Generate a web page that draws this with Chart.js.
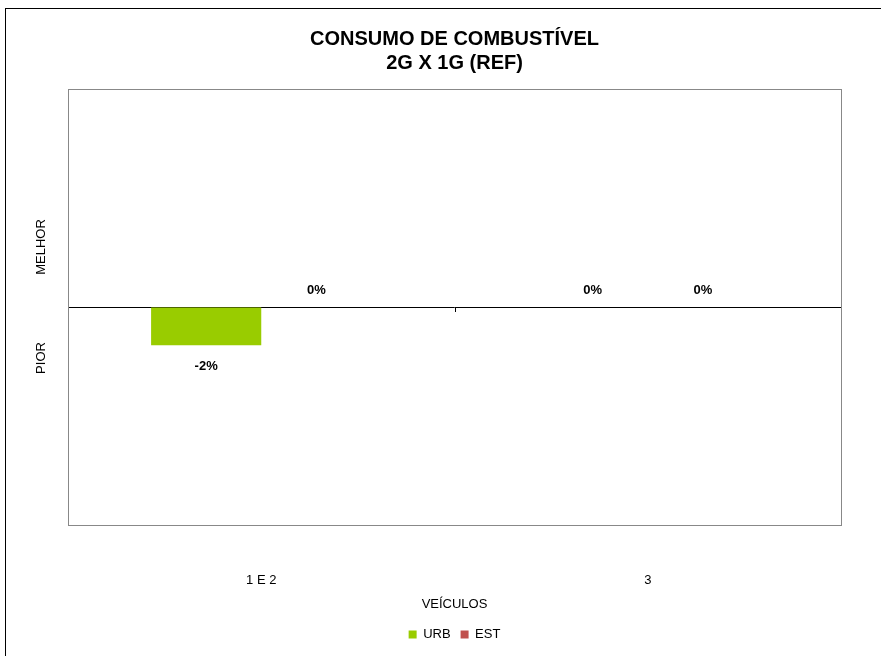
<!DOCTYPE html>
<html>
<head>
<meta charset="utf-8">
<script src="https://cdn.jsdelivr.net/npm/chart.js@4.4.1/dist/chart.umd.min.js"></script>
<style>
    body { margin: 0; overflow: hidden; background: #fff; }
    .frame { position: absolute; left: 5px; top: 8px; width: 900px; height: 670px; border: 1px solid #000; }
</style>
</head>
<body>
<div class="frame"><canvas id="barChart" width="900" height="642"></canvas></div>
<script>
//============================================= Data =============================================//
const categories = ['1 E 2', '3'];
const urbValues = [-0.021, 0];
const estValues = [0, 0];
const seriesNames = ['URB', 'EST'];
const seriesColors = ['#99CC00', '#C0504D'];
const sideLabels = ['MELHOR', 'PIOR'];

Chart.defaults.font.family = '"Liberation Sans", Arial, sans-serif';
Chart.defaults.color = '#000';

// rótulos de valor em cima/baixo das barras
const valueLabels = {
    id: 'valueLabels',
    afterDatasetsDraw(chart) {
        const { ctx } = chart;
        ctx.save();
        ctx.font = 'bold 13px "Liberation Sans", Arial, sans-serif';
        ctx.fillStyle = '#000';
        ctx.textAlign = 'center';
        ctx.textBaseline = 'middle';
        chart.data.datasets.forEach((ds, i) => {
            chart.getDatasetMeta(i).data.forEach((bar, j) => {
                const v = ds.data[j];
                const txt = Math.round(v * 100) + '%';
                if (v < 0) {
                    ctx.fillText(txt, bar.x, bar.y + 21);
                } else {
                    ctx.fillText(txt, bar.x, bar.y - 17);
                }
            });
        });
        ctx.restore();
    }
};

// moldura da área de plotagem, marca entre categorias e MELHOR / PIOR
const plotFrame = {
    id: 'plotFrame',
    afterDraw(chart) {
        const { ctx, chartArea: a, scales } = chart;
        const zeroY = scales.y.getPixelForValue(0);
        ctx.save();
        ctx.strokeStyle = '#888';
        ctx.lineWidth = 1;
        ctx.strokeRect(Math.round(a.left) + 0.5, Math.round(a.top) + 0.5, Math.round(a.right - a.left), Math.round(a.bottom - a.top));

        ctx.strokeStyle = '#000';
        const midX = Math.round(scales.x.getPixelForValue(0.5)) + 0.5;
        ctx.beginPath();
        ctx.moveTo(midX, zeroY);
        ctx.lineTo(midX, zeroY + 5);
        ctx.stroke();

        ctx.font = '13px "Liberation Sans", Arial, sans-serif';
        ctx.fillStyle = '#000';
        ctx.textAlign = 'center';
        ctx.textBaseline = 'middle';
        const lx = a.left - 27;
        ctx.translate(lx, zeroY - 60);
        ctx.rotate(-Math.PI / 2);
        ctx.fillText(sideLabels[0], 0, 0);
        ctx.rotate(Math.PI / 2);
        ctx.translate(0, 111);
        ctx.rotate(-Math.PI / 2);
        ctx.fillText(sideLabels[1], 0, 0);
        ctx.restore();
    }
};

const barConfig = {
    type: 'bar',
    data: {
        labels: categories,
        datasets: [
            { label: seriesNames[0], data: urbValues, backgroundColor: seriesColors[0] },
            { label: seriesNames[1], data: estValues, backgroundColor: seriesColors[1] }
        ]
    },
    options: {
        responsive: false,
        animation: false,
        categoryPercentage: 0.57,
        barPercentage: 1,
        layout: {
            padding: { left: 62, right: 65, top: 2, bottom: 0 }
        },
        plugins: {
            tooltip: { enabled: false },
            title: {
                display: true,
                text: ['CONSUMO DE COMBUSTÍVEL', '2G X 1G (REF)'],
                font: { size: 20, weight: 'bold' },
                lineHeight: 1.15,
                padding: { top: 16, bottom: 14 }
            },
            legend: {
                position: 'bottom',
                labels: {
                    boxWidth: 8,
                    boxHeight: 8,
                    padding: 10,
                    font: { size: 13 }
                }
            }
        },
        scales: {
            x: {
                grid: { display: false, drawTicks: false },
                border: { display: false },
                ticks: { padding: 48, font: { size: 13 } },
                title: {
                    display: true,
                    text: 'VEÍCULOS',
                    font: { size: 13 },
                    padding: { top: 0, bottom: 6 }
                },
                afterFit: (scale) => { scale.height = 93; }
            },
            y: {
                min: -0.12,
                max: 0.12,
                ticks: { display: false, stepSize: 0.02 },
                border: { display: false },
                grid: {
                    drawTicks: false,
                    color: (c) => c.tick && c.tick.value === 0 ? '#000' : 'rgba(0,0,0,0)'
                }
            }
        }
    },
    plugins: [valueLabels, plotFrame]
};

new Chart(document.getElementById('barChart'), barConfig);
</script>
</body>
</html>
